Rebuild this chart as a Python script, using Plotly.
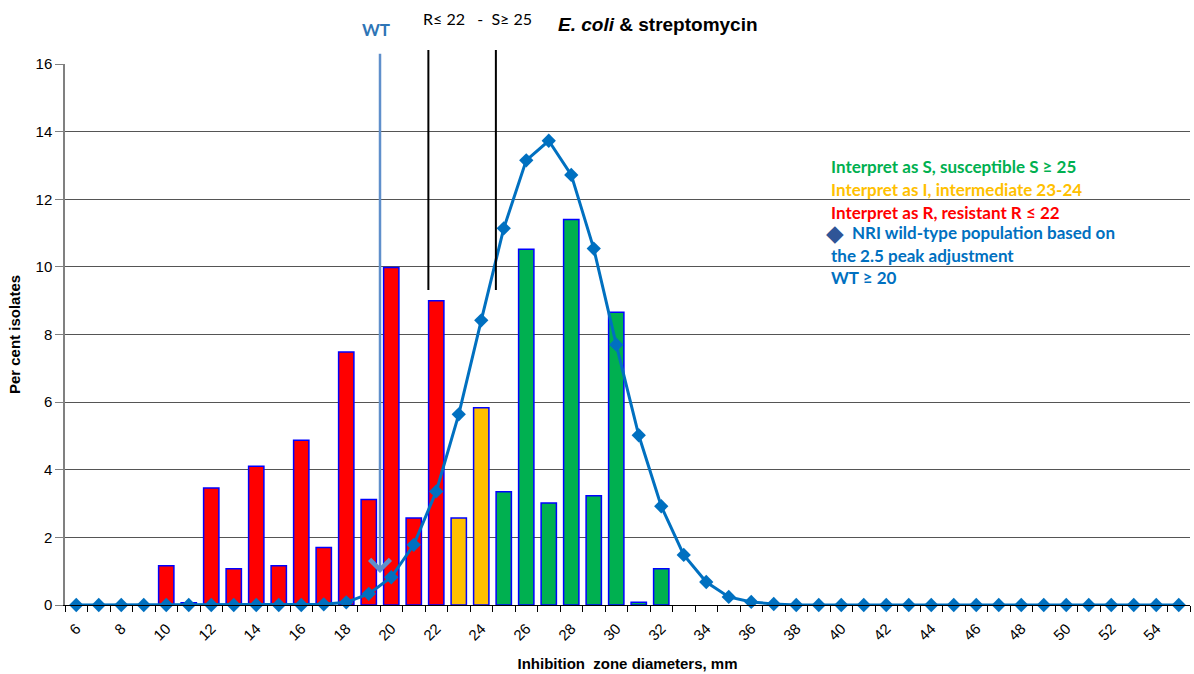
import plotly.graph_objects as go

# Zone-diameter distribution (per cent of isolates) for E. coli vs streptomycin
zone_mm = list(range(10, 33))
pct_isolates = [1.16, 0.07, 3.46, 1.07, 4.1, 1.16, 4.87, 1.7, 7.48, 3.12,
                9.98, 2.57, 9.0, 2.57, 5.83, 3.35, 10.52, 3.02, 11.4, 3.23,
                8.66, 0.08, 1.07]

# NRI wild-type population curve (2.5 peak adjustment)
nri_mm = list(range(6, 56))
nri_pct = [0, 0, 0, 0, 0, 0, 0, 0, 0, 0, 0, 0.02, 0.08, 0.33, 0.82, 1.78,
           3.36, 5.64, 8.42, 11.14, 13.15, 13.73, 12.72, 10.54, 7.7, 5.02,
           2.92, 1.48, 0.68, 0.24, 0.09, 0.03] + [0] * 18

# Clinical breakpoints and wild-type cut-off
R_MAX = 22
S_MIN = 25
WT_MIN = 20
bp_line_x = [21.65, 24.65]

x_ticks = list(range(6, 56, 2))
y_ticks = list(range(0, 17, 2))

RED, ORANGE, GREEN, BLUE = "#FF0000", "#FFC000", "#00B050", "#0070C0"


def bar_color(mm):
    if mm <= R_MAX:
        return RED
    if mm < S_MIN:
        return ORANGE
    return GREEN


X0, X1 = 5.5, 55.5
PLOT_L, PLOT_W, PLOT_B, PLOT_H = 65, 1125, 605, 541


def px_x(px):
    return (px - PLOT_L) / PLOT_W


def px_y(py):
    return (PLOT_B - py) / PLOT_H


fig = go.Figure()
fig.add_trace(go.Bar(
    x=zone_mm, y=pct_isolates, width=0.68,
    marker=dict(color=[bar_color(m) for m in zone_mm],
                line=dict(color="#0000FF", width=1.5)),
    showlegend=False,
))
fig.add_trace(go.Scatter(
    x=nri_mm, y=nri_pct, mode="lines+markers",
    line=dict(color=BLUE, width=3),
    marker=dict(symbol="diamond", size=11, color=BLUE),
    showlegend=False, cliponaxis=False,
))

# Breakpoint markers above the plot
for bx in bp_line_x:
    px = (bx - X0) / (X1 - X0)
    fig.add_shape(type="line", xref="paper", yref="paper",
                  x0=px, x1=px, y0=px_y(50), y1=px_y(290),
                  line=dict(color="black", width=2))

# Wild-type cut-off arrow
fig.add_annotation(x=WT_MIN - 0.5, y=0.95, ax=WT_MIN - 0.5, ay=16.35,
                   xref="x", yref="y", axref="x", ayref="y",
                   text="", showarrow=True, arrowhead=4, arrowsize=1.6,
                   arrowwidth=2.5, arrowcolor="#5F8FCB", standoff=0)

fig.add_annotation(x=px_x(375.5), y=px_y(29), xref="paper", yref="paper",
                   xanchor="center", yanchor="middle",
                   text="<b>WT</b>", showarrow=False,
                   font=dict(family="Lato", size=17, color="#2E75B6"))
fig.add_annotation(x=px_x(477), y=px_y(18), xref="paper", yref="paper",
                   xanchor="center", yanchor="middle",
                   text=f"R≤ {R_MAX}   -  S≥ {S_MIN}", showarrow=False,
                   font=dict(family="Lato", size=16, color="black"))
fig.add_annotation(x=px_x(658), y=px_y(25), xref="paper", yref="paper",
                   xanchor="center", yanchor="middle",
                   text="<b><i>E. coli</i> &amp; streptomycin</b>",
                   showarrow=False,
                   font=dict(family="Liberation Sans", size=19, color="black"))

legend_lines = [
    (f"Interpret as S, susceptible S ≥ {S_MIN}", GREEN, 829, 166),
    (f"Interpret as I, intermediate {R_MAX + 1}-{S_MIN - 1}", ORANGE, 829, 189),
    (f"Interpret as R, resistant R ≤ {R_MAX}", RED, 829, 212),
    ("NRI wild-type population based on", BLUE, 850, 233),
    ("the 2.5 peak adjustment", BLUE, 829, 255),
    (f"WT ≥ {WT_MIN}", BLUE, 829, 277),
]
for txt, col, lx, py in legend_lines:
    fig.add_annotation(x=px_x(lx), y=px_y(py),
                       xref="paper", yref="paper", xanchor="left",
                       yanchor="middle",
                       text=f"<b>{txt}</b>", showarrow=False,
                       font=dict(family="Lato", size=17, color=col))
fig.add_annotation(x=px_x(835), y=px_y(233), xref="paper", yref="paper",
                   xanchor="center", yanchor="middle", text="◆",
                   showarrow=False,
                   font=dict(family="DejaVu Sans", size=23, color="#2F5597"))

fig.update_layout(
    width=1194, height=674,
    margin=dict(l=65, r=4, t=64, b=69),
    paper_bgcolor="white", plot_bgcolor="white",
    font=dict(family="Liberation Sans", color="black"),
    xaxis=dict(
        range=[X0, X1], tickmode="array", tickvals=x_ticks,
        ticktext=[str(t) for t in x_ticks], tickangle=-45,
        ticks="", showgrid=False, zeroline=False,
        showline=True, linecolor="black", linewidth=1,
        ticklabelstandoff=8,
        tickfont=dict(size=15, family="Liberation Sans"),
        minor=dict(ticks="outside", tick0=X0, dtick=1, ticklen=6,
                   tickcolor="black", showgrid=False),
        title=dict(text="<b>Inhibition  zone diameters, mm</b>",
                   font=dict(size=15), standoff=15),
    ),
    yaxis=dict(
        range=[0, 16], tickvals=y_ticks, ticks="outside", ticklen=8,
        tickcolor="#808080", showline=True, linecolor="#808080",
        linewidth=1.5, showgrid=True, gridcolor="#555555", gridwidth=1,
        zeroline=False, tickfont=dict(size=15, family="Liberation Sans"),
        title=dict(text="<b>Per cent isolates</b>", font=dict(size=15),
                   standoff=11),
    ),
)

fig.write_html("out.html")
